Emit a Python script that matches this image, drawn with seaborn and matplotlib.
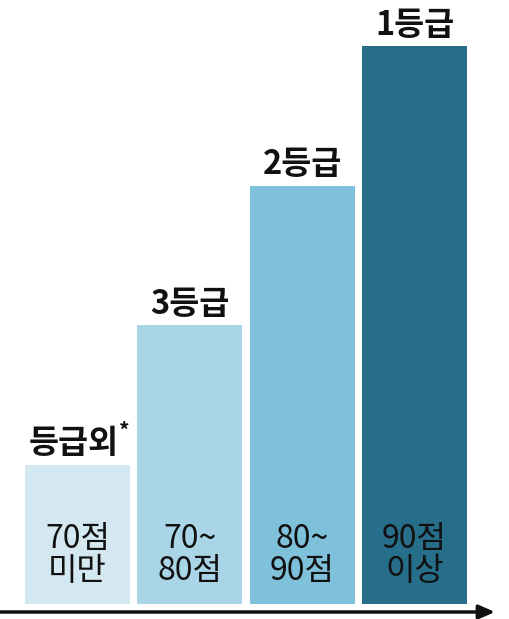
import matplotlib
matplotlib.use("Agg")
import matplotlib.pyplot as plt
import seaborn as sns
import pandas as pd

grades = ["등급외", "3등급", "2등급", "1등급"]
ranges = ["70점\n미만", "70~\n80점", "80~\n90점", "90점\n이상"]
values = [1, 2, 3, 4]
colors = ["#d3e8f0", "#aad5e6", "#7fc0da", "#276e8a"]

sns.set_theme(style="white")
plt.rcParams['font.family'] = ['Noto Sans CJK KR', 'DejaVu Sans']

df = pd.DataFrame({"grade": grades, "value": values})

fig = plt.figure(figsize=(5.10, 6.19), dpi=100)
ax = fig.add_axes([0, 0, 1, 1])
sns.barplot(data=df, x="grade", y="value", hue="grade", palette=colors,
            legend=False, width=0.935, ax=ax, saturation=1, edgecolor="none")

unit = 112.33
ax.set_xlim(-77.5 / unit, (510 - 77.5) / unit)
ax.set_ylim(-15 / 139.5, (619 - 15) / 139.5)
ax.axis("off")

for i, (g, r, v) in enumerate(zip(grades, ranges, values)):
    if g == "등급외":
        ax.annotate(g, (i, v), xytext=(-3, 3), textcoords="offset points",
                    ha="center", va="bottom", fontsize=23.5, fontweight="bold", color="#111111")
        ax.annotate("*", (i, v), xytext=(34, 16), textcoords="offset points",
                    ha="center", va="bottom", fontsize=15, fontweight="bold", color="#111111")
    else:
        ax.annotate(g, (i, v), xytext=(0, 3), textcoords="offset points",
                    ha="center", va="bottom", fontsize=23.5, fontweight="bold", color="#111111")
    ax.text(i, 0.35, r, ha="center", va="center", fontsize=23, color="#111111",
            linespacing=1.0)

ax.annotate("", xy=(495 / 510, 7 / 619), xytext=(0, 7 / 619),
            xycoords="axes fraction", textcoords="axes fraction",
            arrowprops=dict(arrowstyle="-|>,head_length=0.8,head_width=0.35",
                            lw=2.5, color="#111111", shrinkA=0, shrinkB=0))

fig.savefig("out.png", dpi=100)
